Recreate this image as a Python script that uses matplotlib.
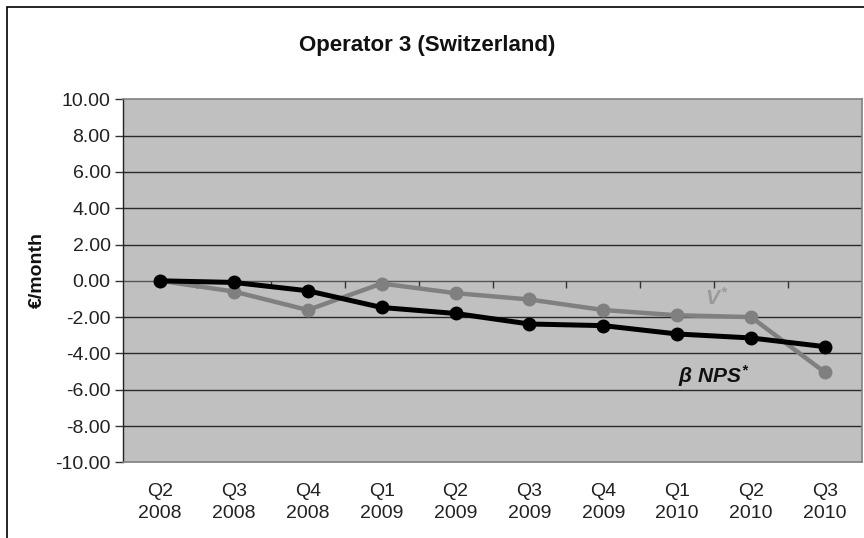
import matplotlib
matplotlib.use("Agg")
import matplotlib.pyplot as plt
from matplotlib.patches import Rectangle

plt.rcParams['font.family'] = ['Liberation Sans', 'DejaVu Sans']
plt.rcParams['mathtext.fontset'] = 'custom'
plt.rcParams['mathtext.it'] = 'Liberation Sans:italic:bold'
plt.rcParams['mathtext.rm'] = 'Liberation Sans:italic:bold'
plt.rcParams['mathtext.bf'] = 'Liberation Sans:italic:bold'

categories = ["Q2\n2008", "Q3\n2008", "Q4\n2008", "Q1\n2009", "Q2\n2009",
              "Q3\n2009", "Q4\n2009", "Q1\n2010", "Q2\n2010", "Q3\n2010"]
beta_nps = [0.0, -0.09, -0.55, -1.47, -1.80, -2.38, -2.47, -2.93, -3.15, -3.63]
v_star = [0.0, -0.59, -1.61, -0.15, -0.68, -1.03, -1.61, -1.90, -2.00, -5.05]
yticks = [10, 8, 6, 4, 2, 0, -2, -4, -6, -8, -10]

fig = plt.figure(figsize=(8.64, 5.38), dpi=100)
ax = fig.add_axes([123/864, 1 - 462.3/538, (862 - 123)/864, (462.3 - 99.3)/538])
ax.set_facecolor('#C0C0C0')

x = list(range(len(categories)))
ax.set_xlim(-0.5, len(categories) - 0.5)
ax.set_ylim(-10, 10)

for v in yticks:
    if v not in (10, -10, 0):
        ax.axhline(v, color='#2a2a2a', lw=1.0, zorder=1)

# category axis crossing at zero, with tick marks at category boundaries
ax.axhline(0, color='#555555', lw=1.0, zorder=1.5)
bounds = [i - 0.5 for i in range(1, len(categories))]
ax.plot(bounds, [0] * len(bounds), linestyle='none', marker=3, markersize=5,
        markeredgewidth=1.0, color='#333333', zorder=1.6)

ax.plot(x, beta_nps, color='black', lw=3.6, marker='o', markersize=9, zorder=4)
ax.plot(x, v_star, color='#808080', lw=3.2, marker='o', markersize=9, zorder=3)

ax.set_yticks(yticks)
ax.set_yticklabels([f"{v:.2f}" for v in yticks], fontsize=14)
ax.set_xticks(x)
ax.set_xticklabels(categories, fontsize=14, linespacing=1.4)
ax.tick_params(axis='x', length=0, pad=15, colors='#222222')
ax.tick_params(axis='y', direction='out', length=6, width=1, color='#333333', pad=3, labelcolor='#222222')
for side in ['top', 'right', 'bottom']:
    ax.spines[side].set_color('#808080')
    ax.spines[side].set_linewidth(1.2)
ax.spines['left'].set_color('#222222')
ax.spines['left'].set_linewidth(1.0)

ax.text(7.53, -0.95, r'$V^{*}$', color='#999999', fontsize=15, ha='center', va='center')
ax.text(7.5, -5.25, r'$\beta\ NPS^{*}$', color='#111111', fontsize=15, ha='center', va='center')

fig.text(37/864, 1 - 270/538, '€/month', rotation=90, fontsize=14, fontweight='bold',
         ha='center', va='center', color='#111111')

fig.text(427/864, 1 - 45/538, 'Operator 3 (Switzerland)', fontsize=16, fontweight='bold',
         ha='center', va='center', color='#111111')

fig.patches.append(Rectangle((7/864, -0.1), 1.2, 1 - 7/538 + 0.1, transform=fig.transFigure,
                             fill=False, edgecolor='black', lw=1.2))

fig.savefig('out.png', dpi=100)
